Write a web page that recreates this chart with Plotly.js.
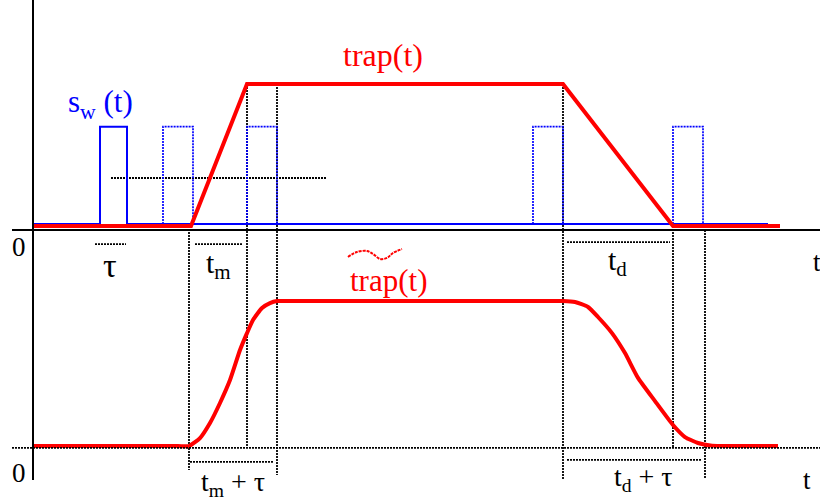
<!DOCTYPE html>
<html>
<head>
<meta charset="utf-8">
<script src="https://cdn.plot.ly/plotly-3.0.1.min.js"></script>
<style>
  html, body { margin: 0; padding: 0; background: #fff; }
  #gd { width: 820px; height: 500px; }
</style>
</head>
<body>
<div id="gd"></div>
<script>
// time unit: 1 = 10 px, t = 0 on the vertical axis
var trapT = [0, 15.8, 21.4, 53.0, 64.0, 74.7];
var trapY = [0, 0, 1, 1, 0, 0];

// smoothed trapezoid
var smoothT = [0, 8.0, 14.5, 15.6, 16.7, 17.7, 18.7, 19.7, 20.7, 21.4, 22.0, 22.9, 23.7, 24.4, 26.0,
               38.0, 51.5, 53.0, 54.2, 55.5, 56.5, 57.9, 59.2, 60.5, 62.2, 64.0, 65.2, 66.5, 67.9, 69.5, 74.5];
var smoothY = [0, 0, 0, 0, 0.055, 0.159, 0.297, 0.455, 0.662, 0.779, 0.869, 0.952, 0.986, 1.0, 1.0,
               1.0, 1.0, 1.0, 0.993, 0.959, 0.890, 0.779, 0.641, 0.47, 0.31, 0.145, 0.062, 0.021, 0.003, 0, 0];

// sampling window s_w(t)
var swBase = 0.014;
var swHigh = 0.70;
var swEnd = 73.5;
var solidPulse = [6.7, 9.4];
var dashedStart = [13.0, 21.4, 50.0, 64.0];
var dashedEnd = [16.0, 24.4, 53.0, 67.0];
var dashedTail = [18.9, 27.2, 55.4, 69.4];

// guide lines (t, top y, bottom y)
var guideT = [15.6, 21.4, 24.4, 53.0, 64.0, 67.2];
var guideTop = [0, 1.0, 1.0, 1.0, 0, -0.028];
var guideBot = [-1.718, -1.563, -1.754, -1.789, -1.563, -1.775];

// interval bars (t0, t1, y)
var barT0 = [7.8, 6.2, 16.2, 53.4, 15.7, 53.4];
var barT1 = [29.3, 9.3, 20.9, 63.7, 24.1, 66.9];
var barY = [0.338, -0.127, -0.127, -0.113, -1.662, -1.648];

// tilde over the lower label
var tildeT = [31.5, 32.4, 33.4, 34.0, 34.7, 35.4, 36.0, 36.9];
var tildeY = [-0.218, -0.183, -0.176, -0.197, -0.232, -0.225, -0.190, -0.162];

var serif = 'Liberation Serif, Times New Roman, serif';

var traces = [];

// solid pulse + baseline
traces.push({
  x: [0, solidPulse[0], solidPulse[0], solidPulse[1], solidPulse[1], swEnd],
  y: [swBase, swBase, swHigh, swHigh, swBase, swBase],
  mode: 'lines', line: {color: '#0000ff', width: 2}, hoverinfo: 'skip'
});

// dashed pulses
for (var i = 0; i < dashedStart.length; i++) {
  traces.push({
    x: [dashedStart[i], dashedStart[i], dashedEnd[i], dashedEnd[i], dashedTail[i]],
    y: [swBase, swHigh, swHigh, swBase, swBase],
    mode: 'lines', line: {color: '#0000ff', width: 1.7, dash: '2px,1px'}, hoverinfo: 'skip'
  });
}

// trap(t)
traces.push({
  x: trapT, y: trapY, mode: 'lines',
  line: {color: '#ff0000', width: 4}, hoverinfo: 'skip'
});

// smoothed trap(t)
traces.push({
  x: smoothT, y: smoothY, yaxis: 'y2', mode: 'lines',
  line: {color: '#ff0000', width: 4, shape: 'spline', smoothing: 0.5}, hoverinfo: 'skip'
});

// tilde
traces.push({
  x: tildeT, y: tildeY, mode: 'lines',
  line: {color: '#ff0000', width: 2, shape: 'spline', dash: '3px,1px'}, hoverinfo: 'skip'
});

var dotted = {color: '#000', width: 1.8, dash: '2px,1px'};
var shapes = [];

// axes
shapes.push({type: 'line', xref: 'x', yref: 'paper', x0: 0, x1: 0, y0: 1, y1: 0.04,
  line: {color: '#000', width: 2}});
shapes.push({type: 'line', xref: 'x', yref: 'y', x0: -2.1, x1: 78.7, y0: -0.028, y1: -0.028,
  line: {color: '#000', width: 2}});
shapes.push({type: 'line', xref: 'x', yref: 'y', x0: -2.1, x1: 78.7, y0: -1.563, y1: -1.563,
  line: dotted});

guideT.forEach(function (t, k) {
  shapes.push({type: 'line', xref: 'x', yref: 'y', x0: t, x1: t, y0: guideTop[k], y1: guideBot[k],
    line: dotted, layer: 'below'});
});
barT0.forEach(function (t, k) {
  shapes.push({type: 'line', xref: 'x', yref: 'y', x0: t, x1: barT1[k], y0: barY[k], y1: barY[k],
    line: dotted, layer: 'below'});
});

function label(text, x, y, color, size, yref) {
  return {text: text, x: x, y: y, xref: 'x', yref: yref || 'y', showarrow: false,
    font: {family: serif, size: size, color: color}};
}

var annotations = [
  label('trap(t)', 35.0, 1.204, '#ff0000', 32),
  label('s<sub>w</sub> (t)', 6.7, 0.86, '#0000ff', 31),
  label('τ', 7.7, -0.275, '#000', 34),
  label('t<sub>m</sub>', 18.5, -0.275, '#000', 30),
  label('t<sub>d</sub>', 58.4, -0.254, '#000', 30),
  label('trap(t)', 35.5, 1.145, '#ff0000', 31, 'y2'),
  label('0', -1.4, -0.148, '#000', 27),
  label('0', -1.4, -0.186, '#000', 27, 'y2'),
  label('t', 78.4, -0.254, '#000', 27),
  label('t', 77.4, -0.234, '#000', 27, 'y2'),
  label('t<sub>m</sub> + τ', 20.0, -0.255, '#000', 28, 'y2'),
  label('t<sub>d</sub> + τ', 61.0, -0.225, '#000', 28, 'y2')
];

var layout = {
  width: 820, height: 500,
  margin: {l: 0, r: 0, t: 0, b: 0},
  paper_bgcolor: '#fff', plot_bgcolor: '#fff',
  showlegend: false,
  xaxis: {range: [-3.3, 78.7], visible: false, fixedrange: true},
  yaxis: {range: [-1.930, 1.592], visible: false, fixedrange: true},
  yaxis2: {range: [-0.372, 3.076], overlaying: 'y', visible: false, fixedrange: true},
  shapes: shapes,
  annotations: annotations
};

Plotly.newPlot('gd', traces, layout, {staticPlot: true, displayModeBar: false});
</script>
</body>
</html>
